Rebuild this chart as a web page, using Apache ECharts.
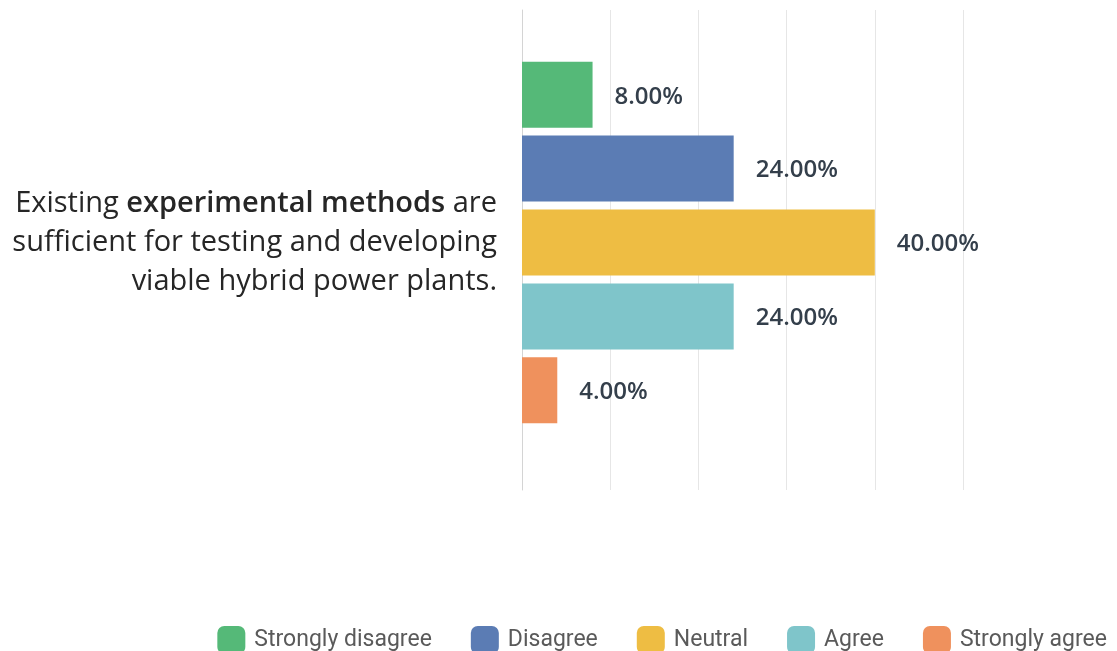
<!DOCTYPE html>
<html>
<head>
<meta charset="utf-8">
<script src="https://cdn.jsdelivr.net/npm/echarts@6/dist/echarts.min.js"></script>
<style>
  html, body { margin: 0; padding: 0; background: #ffffff; }
  #chart { width: 1117px; height: 651px; }
</style>
</head>
<body>
<div id="chart"></div>
<script>
// Survey statement (one category) and the share of each answer, in percent
const categories = ['Existing experimental methods are sufficient for testing and developing viable hybrid power plants.'];
const answerNames = ['Strongly disagree', 'Disagree', 'Neutral', 'Agree', 'Strongly agree'];
const answerValues = [8, 24, 40, 24, 4];
const answerColors = ['#55b978', '#5b7cb4', '#eebd43', '#7fc5ca', '#ef915d'];
const axisTicks = [0, 10, 20, 30, 40, 50];

const chart = echarts.init(document.getElementById('chart'));

const barSeries = answerNames.map((name, i) => ({
  name: name,
  type: 'bar',
  xAxisIndex: 1,
  yAxisIndex: 1,
  data: [answerValues[i]],
  barWidth: 66,
  barGap: '12%',
  itemStyle: { color: answerColors[i] },
  label: {
    show: true,
    position: 'right',
    distance: 22,
    offset: [0, 2],
    formatter: p => p.value.toFixed(2) + '%',
    fontFamily: 'Open Sans',
    fontWeight: 600,
    fontSize: 24,
    color: '#343f4b'
  }
}));

chart.setOption({
  animation: false,
  grid: [
    { left: 522, right: 154, top: 10, bottom: 161 },
    { left: 522, right: 154, top: 10, bottom: 176 }
  ],
  legend: {
    data: answerNames,
    right: 5,
    top: 621,
    itemWidth: 28,
    itemHeight: 28,
    itemGap: 39,
    icon: 'roundRect',
    textStyle: { fontFamily: 'Roboto', fontSize: 23, color: '#5a5a5a', padding: [0, 0, 0, 4] }
  },
  xAxis: [
    {
      gridIndex: 0, type: 'value', min: axisTicks[0], max: axisTicks[axisTicks.length - 1], interval: 10,
      axisLine: { show: false }, axisTick: { show: false }, axisLabel: { show: false },
      splitLine: { show: true, lineStyle: { color: '#e6e6e6', width: 1 } }
    },
    {
      gridIndex: 1, type: 'value', min: axisTicks[0], max: axisTicks[axisTicks.length - 1], interval: 10,
      show: false
    }
  ],
  yAxis: [
    {
      gridIndex: 0, type: 'category', data: categories,
      axisLine: { show: true, lineStyle: { color: '#d4d4d4', width: 1 } },
      axisTick: { show: false }, axisLabel: { show: false }
    },
    {
      gridIndex: 1, type: 'category', data: categories,
      axisLine: { show: false }, axisTick: { show: false },
      axisLabel: {
        margin: 25,
        align: 'right',
        formatter: () =>
          '{n|Existing }{b|experimental methods}{n| are}\n' +
          '{n|sufficient for testing and developing}\n' +
          '{n|viable hybrid power plants.}',
        rich: {
          n: { fontFamily: 'Open Sans', fontSize: 29, color: '#262626', lineHeight: 39 },
          b: { fontFamily: 'Open Sans', fontSize: 29, fontWeight: 600, color: '#262626', lineHeight: 39 }
        }
      }
    }
  ],
  series: barSeries
});
</script>
</body>
</html>
